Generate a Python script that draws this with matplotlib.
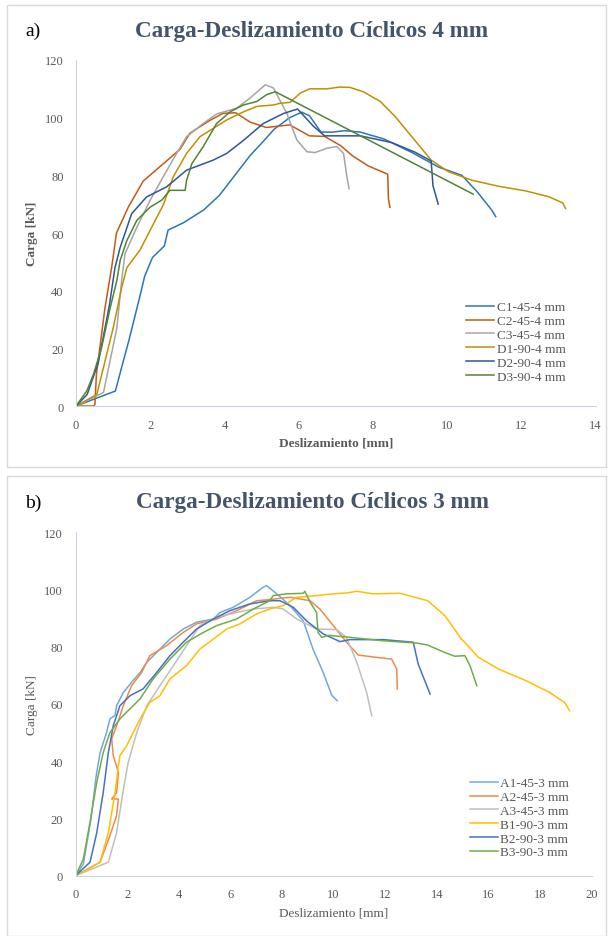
import numpy as np
import matplotlib.pyplot as plt
from matplotlib.patches import Rectangle

# --- panel a) cyclic 4 mm ---
c1_x = [0, 1.06, 1.43, 1.74, 1.85, 2.06, 2.38, 2.48, 2.9, 3.44, 3.86, 4.28, 4.7, 5.02, 5.34, 5.76, 6.08, 6.29, 6.6, 6.92, 7.24, 7.66, 8.3, 9.04, 9.78, 10.4, 10.83, 11.2, 11.31]
c1_y = [0, 5.2, 23, 39, 45, 51.5, 55.5, 61, 63.6, 68, 73, 80, 87, 91.4, 96, 100, 101.9, 100.7, 95, 95, 95.5, 95, 92.6, 88, 82.8, 80, 74, 68, 65.7]
c2_x = [0, 0.48, 0.51, 0.55, 0.78, 0.96, 1.09, 1.41, 1.81, 2.35, 2.8, 3.07, 3.6, 3.96, 4.3, 4.7, 5.13, 5.76, 6.29, 6.7, 7.13, 7.45, 7.87, 8.4, 8.42, 8.46]
c2_y = [0, 0, 0.6, 11, 34, 48, 60, 69, 78, 84, 89, 94.6, 99, 101.5, 101.7, 98.4, 96.6, 97.5, 93.7, 93.5, 90.3, 86.8, 83.3, 80.4, 71.8, 68.9]
c3_x = [0, 0.74, 1.1, 1.23, 1.32, 1.64, 2.0, 2.35, 2.71, 2.98, 3.43, 3.79, 4.33, 4.69, 5.1, 5.32, 5.68, 5.95, 6.22, 6.44, 6.76, 7.03, 7.21, 7.25, 7.3, 7.36]
c3_y = [0, 4.7, 27, 43.5, 52.8, 62, 71.4, 79.5, 87.6, 93.4, 98, 101.3, 103.3, 106.8, 111.4, 110.3, 101.5, 92.3, 88.2, 87.9, 89.4, 90, 87.6, 84, 79.5, 75.4]
d1_x = [0, 0.56, 0.74, 1.0, 1.23, 1.37, 1.72, 2.0, 2.36, 2.62, 2.98, 3.34, 3.7, 4.06, 4.51, 4.87, 5.32, 5.5, 5.77, 6.04, 6.3, 6.76, 7.1, 7.38, 7.74, 8.2, 8.6, 9.12, 9.57, 10.03, 10.67, 11.39, 12.12, 12.76, 13.12, 13.19]
d1_y = [0, 4, 13.4, 27, 41, 48, 54, 61, 70, 79.5, 87.6, 93.4, 96.3, 99.2, 102, 103.9, 104.4, 105, 105.3, 108.5, 110, 110, 110.6, 110.5, 109, 105.6, 100.4, 92.3, 85.3, 81.3, 78.3, 76.2, 74.6, 72.5, 70.4, 68.5]
d2_x = [0, 0.3, 0.6, 0.9, 1.05, 1.19, 1.5, 1.9, 2.44, 2.98, 3.7, 4.06, 4.5, 5.05, 5.6, 5.97, 6.4, 6.7, 7.1, 7.66, 8.5, 9.14, 9.57, 9.62, 9.76]
d2_y = [0, 4, 15, 35, 48, 55, 66.7, 72.5, 76, 81.8, 85.3, 87.6, 92, 98, 101.5, 103, 97, 93.7, 93.7, 93.7, 91.4, 88, 85, 76.4, 70]
d3_x = [0, 0.29, 0.47, 0.69, 0.92, 1.1, 1.19, 1.37, 1.64, 2.0, 2.31, 2.53, 2.94, 2.98, 3.12, 3.43, 3.79, 4.15, 4.51, 4.87, 5.14, 5.37, 10.7]
d3_y = [0, 5.2, 11, 20.3, 34, 43.5, 50.5, 57.4, 64.4, 69, 71.4, 74.8, 74.8, 78.3, 84, 90, 98, 102, 104.4, 105.6, 108, 109, 73.5]

# --- panel b) cyclic 3 mm ---
a1_x = [0, 0.3, 0.6, 0.8, 0.95, 1.2, 1.33, 1.53, 1.59, 1.85, 2.17, 2.5, 2.76, 3.14, 3.66, 4.17, 4.69, 5.34, 5.6, 6.11, 6.76, 7.27, 7.4, 7.8, 8.31, 8.83, 9.21, 9.6, 9.93, 10.14]
a1_y = [0, 4, 20, 35, 43, 50, 54.8, 56, 59.4, 64, 67.6, 71, 74.6, 78, 82.7, 86.2, 88.6, 89.7, 92, 93.8, 97.3, 100.8, 101.4, 98.5, 94.4, 89, 79, 71, 63, 61.2]
a2_x = [0, 0.95, 1.33, 1.59, 1.66, 1.4, 1.59, 1.66, 1.46, 1.4, 1.59, 1.85, 2.17, 2.56, 2.88, 3.53, 4.17, 4.69, 5.47, 6.24, 7.02, 7.5, 8.31, 9.09, 9.47, 9.99, 10.5, 10.96, 11.67, 12.25, 12.45, 12.47]
a2_y = [0, 4.7, 14, 21, 26.8, 26.8, 29, 36, 42, 47.8, 52.4, 59.4, 66.4, 71, 76.9, 80.4, 85, 88, 89.7, 92.6, 96.1, 96.5, 97.3, 96.1, 93.2, 87.4, 81.6, 77.1, 76.3, 75.7, 72.2, 65.3]
a3_x = [0, 1.27, 1.59, 1.85, 2.04, 2.37, 2.76, 3.27, 3.79, 4.3, 4.82, 5.47, 6.24, 6.89, 7.66, 8.05, 8.57, 9.34, 10.12, 10.5, 10.9, 11.28, 11.48]
a3_y = [0, 4.7, 15, 30, 39.6, 50, 59.4, 66.4, 73.4, 80.4, 87.4, 90.3, 92, 93.2, 93.8, 93.2, 89.7, 86.2, 86, 83.3, 74.6, 64.1, 55.9]
b1_x = [0, 0.95, 1.27, 1.53, 1.66, 1.72, 1.98, 2.5, 2.88, 3.27, 3.66, 4.3, 4.82, 5.34, 5.86, 6.37, 7.02, 7.53, 8.05, 8.57, 9.34, 9.99, 10.5, 10.9, 11.54, 12.57, 13.65, 14.31, 14.96, 15.62, 16.4, 17.45, 18.36, 18.95, 19.15]
b1_y = [0, 4.7, 15, 29, 38.4, 42, 45.4, 54.8, 60.6, 62.9, 68.8, 73.4, 79.2, 82.7, 86.2, 88, 91.5, 93.2, 94.4, 97.3, 97.9, 98.5, 98.8, 99.4, 98.5, 98.7, 96.1, 90.9, 82.7, 76.3, 72.2, 68.2, 64.1, 60.6, 57.7]
b2_x = [0, 0.56, 0.82, 1.07, 1.27, 1.46, 1.72, 2.11, 2.62, 3.14, 3.66, 4.17, 4.69, 5.34, 5.98, 6.76, 7.53, 7.92, 8.44, 8.96, 9.6, 10.25, 10.63, 11.93, 13.09, 13.28, 13.74]
b2_y = [0, 4.7, 15, 29, 43, 52.4, 59.4, 62.9, 65.3, 71, 76.9, 81.6, 86.2, 89.7, 92.6, 95, 96.1, 96.1, 93.8, 89, 84.5, 81.8, 82.5, 82.5, 81.6, 74, 63.5]
b3_x = [0, 0.3, 0.56, 0.82, 1.07, 1.33, 1.72, 2.11, 2.5, 3.01, 3.66, 4.3, 4.95, 5.47, 6.24, 6.89, 7.53, 7.66, 8.18, 8.83, 8.89, 9.09, 9.34, 9.4, 9.54, 9.8, 10.63, 11.93, 13.22, 13.65, 14.31, 14.7, 15.09, 15.29, 15.55]
b3_y = [0, 5.8, 18.7, 32.6, 43, 50, 54.8, 58.3, 61.8, 68.8, 75.7, 81.6, 85, 87.4, 89.7, 93.2, 96.1, 97.9, 98.5, 98.7, 99.4, 95.6, 92, 85, 83.3, 84, 83.3, 82.1, 81.3, 80.6, 78, 76.7, 76.9, 73.4, 66.4]

labels_a = ["C1-45-4 mm", "C2-45-4 mm", "C3-45-4 mm", "D1-90-4 mm", "D2-90-4 mm", "D3-90-4 mm"]
labels_b = ["A1-45-3 mm", "A2-45-3 mm", "A3-45-3 mm", "B1-90-3 mm", "B2-90-3 mm", "B3-90-3 mm"]
colors_a = ["#2E75B6", "#C55A11", "#A5A5A5", "#BF9000", "#2F5597", "#548235"]
colors_b = ["#72A9DD", "#F08A4B", "#BFBFBF", "#FFC000", "#4472C4", "#70AD47"]

plt.rcParams['font.family'] = ['Liberation Serif', 'DejaVu Serif']

fig = plt.figure(figsize=(6.14, 9.37), dpi=100)

# light gray boxes around each panel
fig.patches.append(Rectangle((7 / 614, 1 - 468 / 937), 599 / 614, 462 / 937,
                             transform=fig.transFigure, fill=False, ec="#D9D9D9", lw=1))
fig.patches.append(Rectangle((7 / 614, 0.0), 599 / 614, 1 - 477 / 937,
                             transform=fig.transFigure, fill=False, ec="#D9D9D9", lw=1))


def style(ax, xmax, bold, ylab_x, xlab_y):
    ax.set_ylim(0, 120)
    ax.set_xlim(0, xmax)
    ax.set_yticks(range(0, 121, 20))
    ax.set_xticks(range(0, xmax + 1, 2))
    for s in ["top", "right"]:
        ax.spines[s].set_visible(False)
    ax.spines["left"].set_color("#C9D3E3")
    ax.spines["bottom"].set_color("#C9D3E3")
    ax.tick_params(length=0, labelsize=9, colors="#595959")
    ax.tick_params(axis="y", pad=9)
    ax.tick_params(axis="x", pad=9)
    w = "bold" if bold else "normal"
    ax.set_xlabel("Deslizamiento [mm]", fontsize=9.5, color="#595959", fontweight=w)
    ax.set_ylabel("Carga [kN]", fontsize=9.5, color="#595959", fontweight=w)
    ax.yaxis.set_label_coords(ylab_x, 0.5)
    ax.xaxis.set_label_coords(0.5, xlab_y)


ax1 = fig.add_axes([0.1238, 0.5656, 0.8461, 0.3693])
series_a = [(c1_x, c1_y), (c2_x, c2_y), (c3_x, c3_y), (d1_x, d1_y), (d2_x, d2_y), (d3_x, d3_y)]
for (x, y), lab, col in zip(series_a, labels_a, colors_a):
    ax1.plot(x, y, color=col, lw=1.1, label=lab)
style(ax1, 14, True, -0.085, -0.104)
ax1.xaxis.label.set_va("center")
ax1.yaxis.label.set_va("center")
ax1.legend(loc="center left", bbox_to_anchor=(0.751, 0.1855), frameon=False, fontsize=9.5,
           handlelength=2.1, handletextpad=0.2, labelspacing=0.12, borderpad=0, borderaxespad=0,
           labelcolor="#595959")
fig.text(312 / 614, 1 - 31 / 937, "Carga-Deslizamiento Cíclicos 4 mm", ha="center", va="center",
         fontsize=16.7, fontweight="bold", color="#44546A")
fig.text(25 / 614, 1 - 31 / 937, "a)", ha="left", va="center", fontsize=14, color="black")

ax2 = fig.add_axes([0.1231, 0.0644, 0.8403, 0.3664])
series_b = [(a1_x, a1_y), (a2_x, a2_y), (a3_x, a3_y), (b1_x, b1_y), (b2_x, b2_y), (b3_x, b3_y)]
for (x, y), lab, col in zip(series_b, labels_b, colors_b):
    ax2.plot(x, y, color=col, lw=1.1, label=lab)
style(ax2, 20, False, -0.085, -0.1066)
ax2.xaxis.label.set_va("center")
ax2.yaxis.label.set_va("center")
ax2.legend(loc="center left", bbox_to_anchor=(0.7645, 0.1686), frameon=False, fontsize=9.5,
           handlelength=2.1, handletextpad=0.2, labelspacing=0.12, borderpad=0, borderaxespad=0,
           labelcolor="#595959")
fig.text(312 / 614, 1 - 503 / 937, "Carga-Deslizamiento Cíclicos 3 mm", ha="center", va="center",
         fontsize=16.7, fontweight="bold", color="#44546A")
fig.text(25 / 614, 1 - 503 / 937, "b)", ha="left", va="center", fontsize=14, color="black")

fig.savefig("out.png", dpi=100)
